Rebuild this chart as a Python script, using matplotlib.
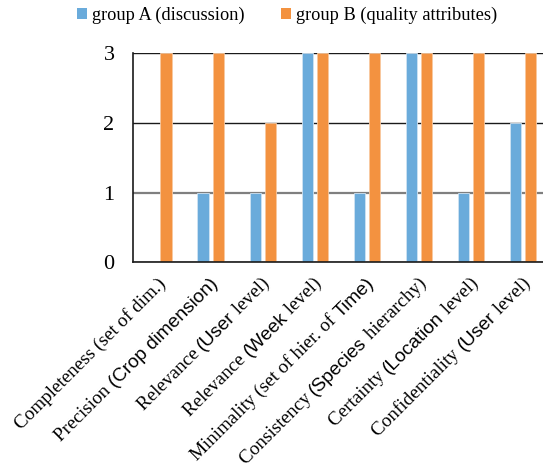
import numpy as np
import matplotlib
matplotlib.use("Agg")
import matplotlib.pyplot as plt
from matplotlib.patches import Patch

SERIF = "Liberation Serif"
SANS = "Liberation Sans"

categories = [
    [("Completeness (set of dim.)", SERIF)],
    [("Precision ", SERIF), ("(Crop dimension)", SANS)],
    [("Relevance ", SERIF), ("(User", SANS), (" level)", SERIF)],
    [("Relevance ", SERIF), ("(Week", SANS), (" level)", SERIF)],
    [("Minimality (set of hier. of ", SERIF), ("Time)", SANS)],
    [("Consistency ", SERIF), ("(Species", SANS), (" hierarchy)", SERIF)],
    [("Certainty ", SERIF), ("(Location", SANS), (" level)", SERIF)],
    [("Confidentiality ", SERIF), ("(User", SANS), (" level)", SERIF)],
]
group_a = [0, 1, 1, 3, 1, 3, 1, 2]
group_b = [3, 3, 2, 3, 3, 3, 3, 3]
series_names = ["group A (discussion)", "group B (quality attributes)"]
yticks = [0, 1, 2, 3]

BLUE = "#6aabdb"
ORANGE = "#f39240"

W, H = 543, 472
fig = plt.figure(figsize=(W / 100, H / 100), dpi=100)
left_px, right_px, top_px, bot_px = 132.5, 549.0, 53.3, 262.3
ax = fig.add_axes([left_px / W, (H - bot_px) / H, (right_px - left_px) / W, (bot_px - top_px) / H])

x = np.arange(len(group_a))
bw = 0.215
off = 0.145
ax.bar(x - off, group_a, bw, color=BLUE, edgecolor="#cfe3f3", linewidth=0.6, zorder=3)
ax.bar(x + off, group_b, bw, color=ORANGE, edgecolor="#f9c9a0", linewidth=0.6, zorder=3)

ax.set_xlim(-0.5, len(group_a) - 0.5)
ax.set_ylim(0, 3)
ax.set_yticks(yticks)
ax.set_yticklabels([str(v) for v in yticks], fontfamily=SERIF, fontsize=16)
ax.set_xticks([])
ax.tick_params(axis="y", length=0, pad=13)
ax.yaxis.grid(True, color="#1a1a1a", linewidth=1.0, zorder=1)
ax.set_axisbelow(True)
gl = ax.yaxis.get_gridlines()
gl[1].set_color("#7f7f7f")
gl[1].set_linewidth(1.6)
for s in ["top", "right"]:
    ax.spines[s].set_visible(False)
for s in ["left", "bottom"]:
    ax.spines[s].set_color("#1a1a1a")
    ax.spines[s].set_linewidth(1.2)
    ax.spines[s].set_zorder(4)

handles = [Patch(facecolor=BLUE, edgecolor="none"), Patch(facecolor=ORANGE, edgecolor="none")]
fig.legend(handles, series_names, loc="center", bbox_to_anchor=(287 / W, 1 - 15 / H), ncol=2,
           frameon=False, prop={"family": SERIF, "size": 13.2}, handlelength=0.55, handleheight=0.55,
           handletextpad=0.25, columnspacing=2.0)

# rotated mixed-font category labels
fs = 13.8
renderer = fig.canvas.get_renderer()


def seg_width(txt, fam):
    t1 = fig.text(0, 0, "|" + txt + "|", fontfamily=fam, fontsize=fs)
    t2 = fig.text(0, 0, "||", fontfamily=fam, fontsize=fs)
    w = t1.get_window_extent(renderer).width - t2.get_window_extent(renderer).width
    t1.remove()
    t2.remove()
    return w


ang = np.deg2rad(45)
d = np.array([np.cos(ang), np.sin(ang)])
for i, segs in enumerate(categories):
    tick_disp = ax.transData.transform((x[i], 0))
    end = np.array([tick_disp[0] + 8.0, tick_disp[1] - 22.0])
    widths = [seg_width(t, f) for t, f in segs]
    total = sum(widths)
    pos = end - total * d
    for (t, f), w in zip(segs, widths):
        fig.text(pos[0] / W, pos[1] / H, t, fontfamily=f, fontsize=fs, rotation=45,
                 rotation_mode="anchor", ha="left", va="baseline")
        pos = pos + w * d

fig.savefig("out.png", dpi=100)
